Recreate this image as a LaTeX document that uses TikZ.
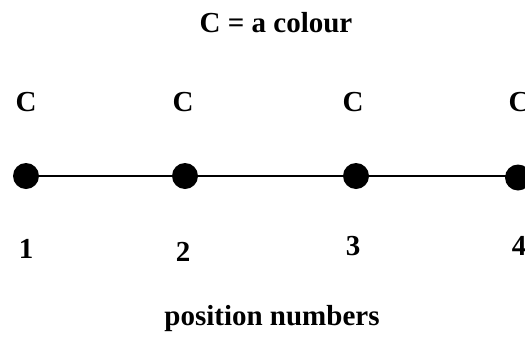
\documentclass[tikz,border=0pt]{standalone}
\usepackage{fontspec}
\setmainfont{Liberation Serif}
\begin{document}
\begin{tikzpicture}[x=1pt,y=-1pt,
  lbl/.style={font=\fontsize{29}{34}\selectfont\bfseries, anchor=base, inner sep=0pt},
  dot/.style={circle, fill=black, minimum size=26pt, inner sep=0pt},
  link/.style={line width=1.4pt, black}]
\useasboundingbox (0,0) rectangle (525,338);
\clip (0,0) rectangle (525,338);
\node[lbl] (title) at (276,32) {C = a colour};
\node[lbl] (c1) at (26,111) {C};
\node[lbl] (c2) at (183,111) {C};
\node[lbl] (c3) at (353,111) {C};
\node[lbl] (c4) at (519,111) {C};
\node[dot] (d1) at (26,176) {};
\node[dot] (d2) at (185,176) {};
\node[dot] (d3) at (356,176) {};
\node[dot] (d4) at (518,177.5) {};
\draw[link] (d1) -- (d2) -- (d3) -- (d3 -| d4);
\node[lbl] (n1) at (26,258) {1};
\node[lbl] (n2) at (183,261) {2};
\node[lbl] (n3) at (353,255) {3};
\node[lbl] (n4) at (519,255) {4};
\node[lbl] (pos) at (272,325) {position numbers};
\end{tikzpicture}
\end{document}
